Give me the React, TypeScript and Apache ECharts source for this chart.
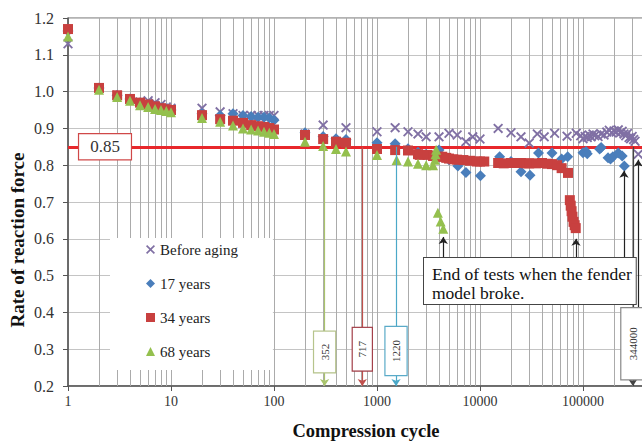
import React, { useEffect, useRef } from "react";
import * as echarts from "echarts";

// ---------------- data ----------------
const beforeAgingCycles = [1, 2, 3, 4, 5, 6, 7, 8, 9, 10, 20, 30, 40, 50, 60, 70, 80, 90, 100, 200, 300, 500, 1000, 1500, 2000, 2500, 3000, 4000, 5000, 6000, 7300, 8500, 10000, 15000, 20000, 25000, 30000, 36000, 42000, 53000, 70000, 86000, 95000, 100000, 105000, 110000, 115000, 120000, 125000, 130000, 140000, 150000, 160000, 170000, 180000, 190000, 200000, 210000, 220000, 230000, 240000, 250000, 260000, 270000, 280000, 290000, 300000, 310000, 320000, 344000];
const beforeAgingRate = [1.13, 1.01, 0.99, 0.98, 0.972, 0.975, 0.97, 0.965, 0.958, 0.955, 0.955, 0.945, 0.94, 0.935, 0.935, 0.935, 0.935, 0.935, 0.935, 0.885, 0.909, 0.902, 0.891, 0.902, 0.891, 0.885, 0.877, 0.877, 0.887, 0.882, 0.864, 0.877, 0.871, 0.9, 0.888, 0.877, 0.86, 0.885, 0.877, 0.887, 0.879, 0.887, 0.88, 0.872, 0.878, 0.875, 0.882, 0.877, 0.885, 0.88, 0.878, 0.885, 0.882, 0.89, 0.895, 0.888, 0.893, 0.89, 0.896, 0.888, 0.892, 0.885, 0.88, 0.886, 0.875, 0.872, 0.878, 0.87, 0.865, 0.83];

const years17Cycles = [1, 2, 3, 4, 5, 6, 7, 8, 9, 10, 20, 30, 40, 50, 60, 70, 80, 90, 100, 200, 300, 400, 500, 1000, 1500, 2000, 2500, 3000, 4000, 5000, 6100, 7300, 10100, 15500, 20000, 25000, 30600, 37000, 50000, 62000, 71000, 100000, 107000, 110000, 145000, 150000, 175000, 185000, 195000, 220000, 240000, 252000];
const years17Rate = [1.165, 1.01, 0.99, 0.98, 0.97, 0.965, 0.96, 0.956, 0.953, 0.95, 0.94, 0.935, 0.94, 0.935, 0.932, 0.93, 0.93, 0.928, 0.922, 0.888, 0.878, 0.872, 0.87, 0.861, 0.858, 0.845, 0.835, 0.83, 0.841, 0.815, 0.798, 0.78, 0.771, 0.823, 0.81, 0.782, 0.773, 0.833, 0.833, 0.817, 0.823, 0.834, 0.837, 0.831, 0.844, 0.848, 0.82, 0.817, 0.823, 0.833, 0.825, 0.798];

const years34Cycles = [1, 2, 3, 4, 5, 6, 7, 8, 9, 10, 20, 30, 40, 50, 60, 70, 80, 90, 100, 200, 300, 400, 500, 1000, 1500, 2000, 2500, 2600, 3100, 3500, 4000, 4300, 4700, 5000, 5500, 6000, 6900, 8000, 9300, 10000, 11000, 15000, 17000, 20000, 25000, 28000, 30000, 35000, 40000, 45000, 50000, 56000, 62000, 71500, 74500, 76000, 77500, 79000, 81000, 83000, 85000];
const years34Rate = [1.17, 1.01, 0.99, 0.98, 0.97, 0.965, 0.96, 0.955, 0.952, 0.95, 0.936, 0.925, 0.921, 0.915, 0.909, 0.906, 0.904, 0.901, 0.897, 0.882, 0.871, 0.864, 0.861, 0.844, 0.841, 0.84, 0.83, 0.828, 0.828, 0.825, 0.823, 0.823, 0.82, 0.818, 0.816, 0.815, 0.814, 0.812, 0.81, 0.81, 0.81, 0.806, 0.805, 0.806, 0.806, 0.805, 0.805, 0.805, 0.806, 0.804, 0.803, 0.8, 0.792, 0.779, 0.705, 0.69, 0.675, 0.66, 0.646, 0.637, 0.629];

const years68Cycles = [1, 2, 3, 4, 5, 6, 7, 8, 9, 10, 20, 30, 40, 50, 60, 70, 80, 90, 100, 200, 300, 400, 500, 1000, 1550, 2000, 2500, 3000, 3500, 3650, 3700, 3750, 3900, 4150, 4400];
const years68Rate = [1.15, 1.005, 0.985, 0.975, 0.963, 0.958, 0.953, 0.95, 0.947, 0.944, 0.928, 0.918, 0.908, 0.9, 0.897, 0.894, 0.891, 0.888, 0.885, 0.864, 0.852, 0.844, 0.837, 0.828, 0.814, 0.81, 0.804, 0.8, 0.8, 0.815, 0.83, 0.842, 0.671, 0.647, 0.627];

const seriesNames = ["Before aging", "17 years", "34 years", "68 years"];
const thresholdRate = 0.85;
const thresholdLabels = ["352", "717", "1220", "344000"];
const thresholdCycles = [310, 720, 1530, 305000];
const brokeCycles = [4400, 85500, 250000, 344000];
const brokeTips = [0.605, 0.6, 0.785, 0.815];
const noteText = "End of tests when the fender\nmodel broke.";

// ---------------- styling ----------------
const FONT = "'Liberation Serif', 'Times New Roman', serif";
const X_PATH = "path://M0,1.3L1.3,0L5,3.7L8.7,0L10,1.3L6.3,5L10,8.7L8.7,10L5,6.3L1.3,10L0,8.7L3.7,5Z";
const colors = ["#8070a4", "#4a7ebb", "#c8403f", "#94c04e"];
const symbols = [X_PATH, "diamond", "rect", "triangle"];
const symbolSizes = [10, 11, 10, 10];
const thresholdLineColors = ["#a9c46c", "#c0504d", "#4ba8c8", "#444444"];
const thresholdBoxBorders = ["#b6c48c", "#a3404a", "#5aaac8", "#888888"];
const thresholdBoxCenterRates = [0.2925, 0.3, 0.295, 0.315];
const thresholdPads = [[5, 12], [4, 13], [5, 13], [6, 19]];

const zip = (xs: number[], ys: number[]) => xs.map((x, i) => [x, ys[i]]);

const minorGrid: number[] = [];
for (let e = 0; e < 6; e++) for (let m = 2; m <= 9; m++) minorGrid.push(m * Math.pow(10, e));

const dataSets = [
  zip(beforeAgingCycles, beforeAgingRate),
  zip(years17Cycles, years17Rate),
  zip(years34Cycles, years34Rate),
  zip(years68Cycles, years68Rate),
];

const option: any = {
  animation: false,
  backgroundColor: "#ffffff",
  grid: {
    left: 68, top: 18, right: 14, bottom: 59,
    show: true, borderColor: "#666", borderWidth: 1, backgroundColor: "transparent",
    containLabel: false, outerBoundsMode: "none",
  },
  xAxis: {
    type: "log",
    logBase: 10,
    min: 1,
    max: 1000000,
    axisLine: { show: true, lineStyle: { color: "#555", width: 1.5 } },
    axisTick: { show: true, length: 5, lineStyle: { color: "#555" } },
    axisLabel: { fontFamily: FONT, fontSize: 14, color: "#333", margin: 8, showMaxLabel: false, formatter: (v: number) => String(Math.round(v)) },
    splitLine: { show: true, lineStyle: { color: "#ababab", width: 1 } },
  },
  yAxis: {
    type: "value",
    min: 0.2,
    max: 1.2,
    interval: 0.1,
    axisLine: { show: true, lineStyle: { color: "#555", width: 1.5 } },
    axisTick: { show: true, length: 5, lineStyle: { color: "#555" } },
    axisLabel: { fontFamily: FONT, fontSize: 16, color: "#333", margin: 14, formatter: (v: number) => v.toFixed(1) },
    splitLine: { show: true, lineStyle: { color: "#c4c4c4", width: 1 } },
  },
  legend: {
    orient: "vertical",
    left: 110,
    top: 238,
    z: 10,
    padding: [4, 35, 11, 36],
    itemGap: 19,
    itemWidth: 9,
    itemHeight: 9,
    backgroundColor: "#ffffff",
    selectedMode: false,
    textStyle: { fontFamily: FONT, fontSize: 15, color: "#222" },
    data: seriesNames.map((n, i) => ({ name: n, icon: symbols[i] })),
  },
  series: [
    {
      name: "_grid",
      type: "line",
      data: [],
      z: 1,
      markLine: {
        silent: true,
        z: 1,
        symbol: "none",
        animation: false,
        label: { show: false },
        lineStyle: { color: "#ababab", width: 1, type: "solid" },
        emphasis: { disabled: true },
        data: minorGrid.map((v) => ({ xAxis: v })),
      },
    },
    {
      name: "_threshold",
      type: "line",
      data: [],
      z: 1,
      markLine: {
        silent: true,
        z: 1.5,
        symbol: "none",
        animation: false,
        label: { show: false },
        lineStyle: { color: "#e8272b", width: 3, type: "solid" },
        emphasis: { disabled: true },
        data: [{ yAxis: thresholdRate }],
      },
    },
    ...seriesNames.map((n, i) => ({
      name: n,
      type: "scatter",
      z: 2,
      symbol: symbols[i],
      symbolSize: symbolSizes[i],
      symbolKeepAspect: true,
      itemStyle: { color: colors[i], opacity: 1 },
      data: dataSets[i],
    })),
    {
      name: "_arrows",
      type: "line",
      data: [],
      z: 3,
      markLine: {
        silent: true,
        z: 3,
        symbol: ["none", "arrow"],
        symbolSize: 7,
        animation: false,
        label: { show: false },
        emphasis: { disabled: true },
        data: [
          ...thresholdCycles.map((c, i) => [
            { coord: [c, thresholdRate], lineStyle: { color: thresholdLineColors[i], width: 1.2, type: "solid" } },
            { coord: [c, 0.2] },
          ]),
          ...brokeCycles.map((c, i) => [
            { coord: [c, i === 3 ? 0.412 : 0.548], lineStyle: { color: "#222", width: 1.2, type: "solid" } },
            { coord: [c, brokeTips[i]] },
          ]),
        ],
      },
    },
  ],
};

export default function App() {
  const ref = useRef<HTMLDivElement>(null);
  useEffect(() => {
    const chart = echarts.init(ref.current!, null, { renderer: "svg", width: 700, height: 445 });
    chart.setOption(option);
    const px = (x: number, y: number) => chart.convertToPixel({ gridIndex: 0 }, [x, y]) as number[];
    const graphics: any[] = [];
    thresholdLabels.forEach((t, i) => {
      const [cx, cy] = px(thresholdCycles[i], thresholdBoxCenterRates[i]);
      graphics.push({
        type: "text",
        x: cx,
        y: cy,
        rotation: Math.PI / 2,
        z: 20,
        style: {
          text: t,
          font: `11px ${FONT}`,
          fill: "#333",
          align: "center",
          verticalAlign: "middle",
          backgroundColor: "#fff",
          borderColor: thresholdBoxBorders[i],
          borderWidth: 1.2,
          padding: thresholdPads[i],
        },
      });
    });
    const [, y85] = px(1, thresholdRate);
    graphics.push({
      type: "text",
      x: 105,
      y: y85,
      z: 20,
      style: {
        text: "0.85",
        font: `17px ${FONT}`,
        fill: "#333",
        align: "center",
        verticalAlign: "middle",
        backgroundColor: "#fff",
        borderColor: "#d04848",
        borderWidth: 1.2,
        padding: [4, 11],
      },
    });
    graphics.push({
      type: "text",
      x: 424,
      y: 258,
      z: 20,
      style: {
        text: noteText,
        font: `17.5px ${FONT}`,
        lineHeight: 19,
        fill: "#111",
        align: "left",
        verticalAlign: "top",
        backgroundColor: "#fff",
        borderColor: "#444",
        borderWidth: 1,
        padding: [6, 4, 2, 8],
      },
    });
    graphics.push({
      type: "text",
      x: 366,
      y: 431,
      z: 20,
      style: { text: "Compression cycle", font: `bold 18.5px ${FONT}`, fill: "#111", align: "center", verticalAlign: "middle" },
    });
    graphics.push({
      type: "text",
      x: 17,
      y: 240,
      rotation: Math.PI / 2,
      z: 20,
      style: { text: "Rate of reaction force", font: `bold 19px ${FONT}`, fill: "#111", align: "center", verticalAlign: "middle" },
    });
    chart.setOption({ graphic: graphics });
    return () => chart.dispose();
  }, []);
  return (
    <div style={{ position: "absolute", left: 0, top: 0, width: 642, height: 445, overflow: "hidden", background: "#fff" }}>
      <div ref={ref} style={{ width: 700, height: 445 }} />
    </div>
  );
}
